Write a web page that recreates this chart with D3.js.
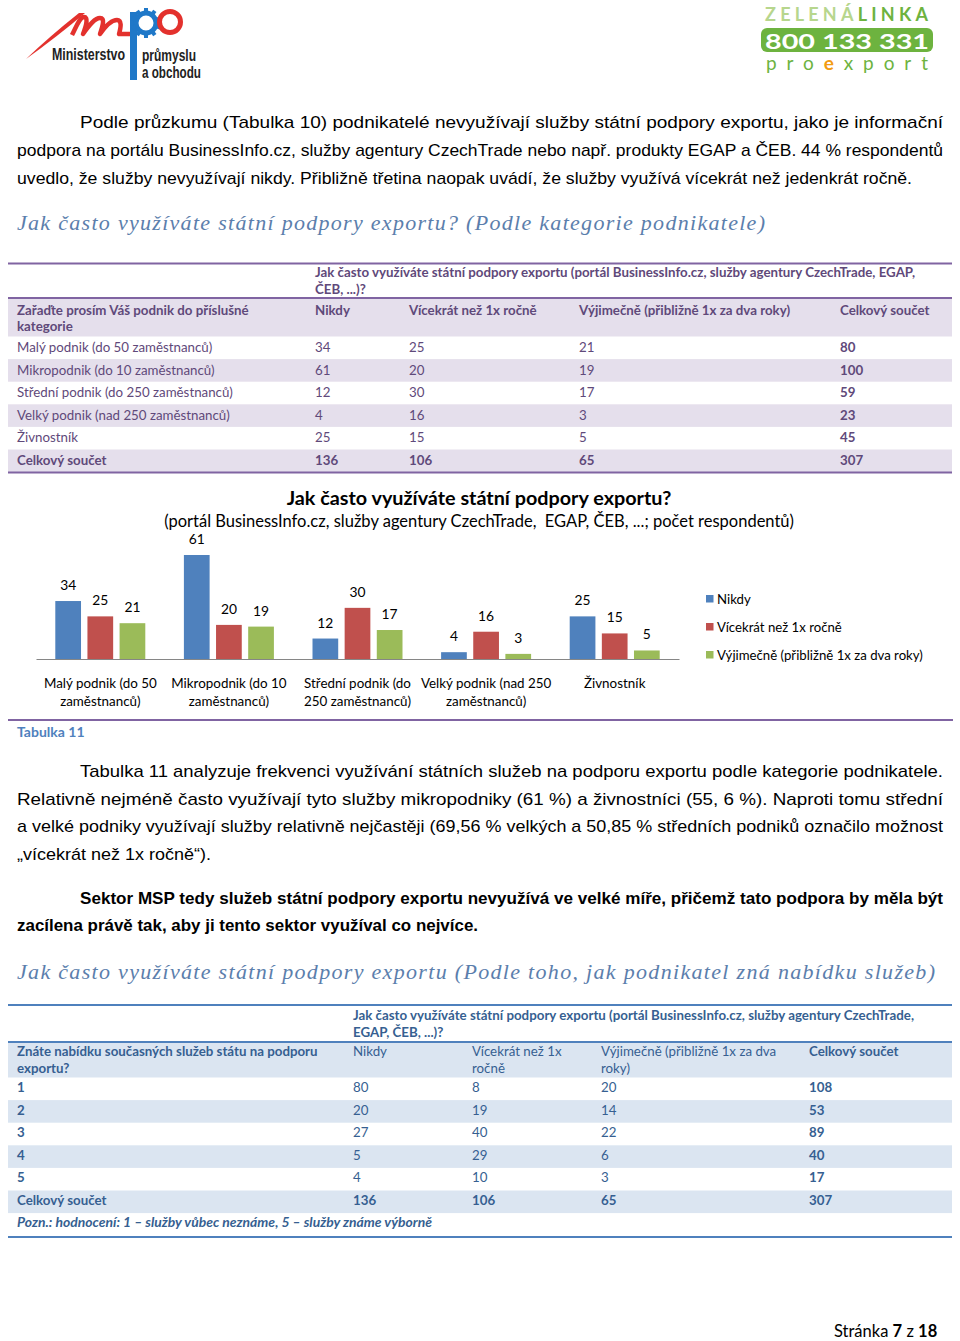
<!DOCTYPE html>
<html><head><meta charset="utf-8">
<script src="https://cdn.jsdelivr.net/npm/d3@7"></script>
<style>html,body{margin:0;padding:0;background:#fff;} svg{display:block;}</style>
</head><body><div id="page"></div>
<script>
// ---------- DATA ----------
const categories = ["Malý podnik (do 50 zaměstnanců)", "Mikropodnik (do 10 zaměstnanců)", "Střední podnik (do 250 zaměstnanců)", "Velký podnik (nad 250 zaměstnanců)", "Živnostník"];
const categoryAxisLines = [["Malý podnik (do 50", "zaměstnanců)"], ["Mikropodnik (do 10", "zaměstnanců)"], ["Střední podnik (do", "250 zaměstnanců)"], ["Velký podnik (nad 250", "zaměstnanců)"], ["Živnostník"]];
const series = ["Nikdy", "Vícekrát než 1x ročně", "Výjimečně (přibližně 1x za dva roky)"];
const nikdy = [34, 61, 12, 4, 25];
const vicekrat = [25, 20, 30, 16, 15];
const vyjimecne = [21, 19, 17, 3, 5];
const totals = [80, 100, 59, 23, 45];
const grandTotals = [136, 106, 65, 307];

const ratings = ["1", "2", "3", "4", "5"];
const nikdy2 = [80, 20, 27, 5, 4];
const vicekrat2 = [8, 19, 40, 29, 10];
const vyjimecne2 = [20, 14, 22, 6, 3];
const totals2 = [108, 53, 89, 40, 17];
const grandTotals2 = [136, 106, 65, 307];

const seriesColors = ["#4f81bd", "#c0504d", "#9bbb59"];

// ---------- SETUP ----------
const W = 960, H = 1341;
const svg = d3.select("#page").append("svg").attr("width", W).attr("height", H);
svg.append("rect").attr("width", W).attr("height", H).attr("fill", "#fff");
const SANS = "Lato, 'Open Sans', sans-serif";
const NARROW = "'Liberation Sans Narrow', 'Liberation Sans', sans-serif";
const SERIF = "'Liberation Serif', 'DejaVu Serif', serif";
const TS = 13.3;

function txt(parent, x, y, s, o = {}) {
  const t = parent.append("text").attr("x", x).attr("y", y)
    .attr("font-family", o.family || SANS)
    .attr("font-size", o.size || TS)
    .attr("font-weight", o.weight || "normal")
    .attr("font-style", o.style || "normal")
    .attr("fill", o.fill || "#000")
    .attr("text-anchor", o.anchor || "start")
    .text(s);
  if (o.len) t.attr("textLength", o.len).attr("lengthAdjust", o.adjust || "spacingAndGlyphs");
  return t;
}

// ---------- LOGOS ----------
const logo = svg.append("g");
logo.append("path").attr("d", "M26,59 Q50,36 79,13 L85,13 Q58,36 26,59 Z").attr("fill", "#e3312d");
logo.append("path")
  .attr("d", "M72,35 C77,25 80,17 84,17 C88,17 87,24 83,34 C90,24 95,18 100,18 C105,18 103,25 100,34 C107,24 112,20 117,20 C122,20 121,27 119,34 L130,34")
  .attr("fill", "none").attr("stroke", "#e3312d").attr("stroke-width", 4.5).attr("stroke-linejoin", "round");
logo.append("rect").attr("x", 130).attr("y", 12).attr("width", 7).attr("height", 68).attr("fill", "#1f78c8");
logo.append("circle").attr("cx", 146).attr("cy", 23).attr("r", 10).attr("fill", "none").attr("stroke", "#1f78c8").attr("stroke-width", 5);
d3.range(10).forEach(i => {
  const a = i * 36;
  logo.append("rect").attr("x", -2).attr("y", -15).attr("width", 4).attr("height", 4)
    .attr("fill", "#1f78c8").attr("transform", `translate(146,23) rotate(${a})`);
});
logo.append("circle").attr("cx", 170).attr("cy", 22).attr("r", 10.5).attr("fill", "none").attr("stroke", "#e3312d").attr("stroke-width", 5);
txt(logo, 52, 60, "Ministerstvo", {family: NARROW, size: 16, weight: "bold", fill: "#222", len: 73});
txt(logo, 142, 61, "průmyslu", {family: NARROW, size: 16, weight: "bold", fill: "#222", len: 54});
txt(logo, 142, 78, "a obchodu", {family: NARROW, size: 16, weight: "bold", fill: "#222", len: 59});

const zl = svg.append("g");
const zt = zl.append("text").attr("x", 765).attr("y", 21).attr("font-family", SANS).attr("font-size", 18)
  .attr("font-weight", "bold").attr("textLength", 163).attr("lengthAdjust", "spacing");
zt.append("tspan").attr("fill", "#b7d68d").text("ZELENÁ");
zt.append("tspan").attr("fill", "#6db33f").text("LINKA");
zl.append("rect").attr("x", 761).attr("y", 28).attr("width", 172).attr("height", 24).attr("rx", 6).attr("fill", "#6db33f");
txt(zl, 765, 48.5, "800 133 331", {size: 20, weight: "bold", fill: "#fff", len: 164});
const pe = zl.append("text").attr("x", 766).attr("y", 70).attr("font-family", SANS).attr("font-size", 19)
  .attr("textLength", 162).attr("lengthAdjust", "spacing");
pe.append("tspan").attr("fill", "#6db33f").text("pro");
pe.append("tspan").attr("fill", "#f39c12").attr("font-weight", "bold").text("e");
pe.append("tspan").attr("fill", "#6db33f").text("xport");

// ---------- BODY TEXT ----------
const bodyLines = [
  {s: "Podle průzkumu (Tabulka 10) podnikatelé nevyužívají služby státní podpory exportu, jako je informační", x: 80, y: 128, len: 863},
  {s: "podpora na portálu BusinessInfo.cz, služby agentury CzechTrade nebo např. produkty EGAP a ČEB. 44 % respondentů", x: 17, y: 156, len: 926},
  {s: "uvedlo, že služby nevyužívají nikdy. Přibližně třetina naopak uvádí, že služby využívá vícekrát než jedenkrát ročně.", x: 17, y: 184, len: 895},
  {s: "Tabulka 11 analyzuje frekvenci využívání státních služeb na podporu exportu podle kategorie podnikatele.", x: 80, y: 777, len: 863},
  {s: "Relativně nejméně často využívají tyto služby mikropodniky (61 %) a živnostníci (55, 6 %). Naproti tomu střední", x: 17, y: 805, len: 926},
  {s: "a velké podniky využívají služby relativně nejčastěji (69,56 % velkých a 50,85 % středních podniků označilo možnost", x: 17, y: 832, len: 926},
  {s: "„vícekrát než 1x ročně“).", x: 17, y: 860, len: 194},
  {s: "Sektor MSP tedy služeb státní podpory exportu nevyužívá ve velké míře, přičemž tato podpora by měla být", x: 80, y: 904, len: 863, w: "bold"},
  {s: "zacílena právě tak, aby ji tento sektor využíval co nejvíce.", x: 17, y: 931, len: 461, w: "bold"}
];
bodyLines.forEach(l => txt(svg, l.x, l.y, l.s, {family: NARROW, size: 17, weight: l.w || "normal", fill: "#000", len: l.len}));

txt(svg, 17, 230, "Jak často využíváte státní podpory exportu? (Podle kategorie podnikatele)",
  {family: SERIF, size: 22, style: "italic", fill: "#5b7eac", len: 748, adjust: "spacing"});
txt(svg, 17, 979, "Jak často využíváte státní podpory exportu (Podle toho, jak podnikatel zná nabídku služeb)",
  {family: SERIF, size: 22, style: "italic", fill: "#5b7eac", len: 918, adjust: "spacing"});

// ---------- TABLE 1 ----------
(function () {
  const g = svg.append("g");
  const C = "#5f497a", B = "#8064a2", F = "#e5dfec";
  const cols = [17, 315, 409, 579, 840];
  const rowTop = 336.5, rh = 22.6;
  g.append("rect").attr("x", 8).attr("y", 298.5).attr("width", 944).attr("height", 38).attr("fill", F);
  const rows = categories.map((c, i) => ({label: c, vals: [nikdy[i], vicekrat[i], vyjimecne[i], totals[i]], total: false}))
    .concat([{label: "Celkový součet", vals: grandTotals, total: true}]);
  const rg = g.selectAll("g.row").data(rows).join("g").attr("class", "row")
    .attr("transform", (d, i) => `translate(0,${rowTop + i * rh})`);
  rg.filter((d, i) => i % 2 === 1).append("rect").attr("x", 8).attr("y", 0).attr("width", 944).attr("height", rh).attr("fill", F);
  rg.each(function (d) {
    const r = d3.select(this);
    txt(r, cols[0], 15.5, d.label, {fill: C, weight: d.total ? "bold" : "normal"});
    d.vals.forEach((v, j) => txt(r, cols[j + 1], 15.5, v, {fill: C, weight: (d.total || j === 3) ? "bold" : "normal"}));
  });
  [263.5, 298, 472.5].forEach(y => g.append("line").attr("x1", 8).attr("x2", 952).attr("y1", y).attr("y2", y).attr("stroke", B).attr("stroke-width", 1.8));
  txt(g, 315, 277, "Jak často využíváte státní podpory exportu (portál BusinessInfo.cz, služby agentury CzechTrade, EGAP,", {fill: C, weight: "bold", len: 600});
  txt(g, 315, 294, "ČEB, ...)?", {fill: C, weight: "bold"});
  txt(g, cols[0], 315, "Zařaďte prosím Váš podnik do příslušné", {fill: C, weight: "bold"});
  txt(g, cols[0], 331, "kategorie", {fill: C, weight: "bold"});
  series.concat(["Celkový součet"]).forEach((s, j) => txt(g, cols[j + 1], 315, s, {fill: C, weight: "bold"}));
})();

// ---------- CHART ----------
(function () {
  const g = svg.append("g");
  const x0 = d3.scaleBand().domain(categories).range([36, 679]);
  const bw = x0.bandwidth();
  const x1 = d3.scaleBand().domain(series).range([(bw - 90) / 2, (bw + 90) / 2]).paddingInner(0.2);
  const y = d3.scaleLinear().domain([0, 70]).range([659, 659 - 70 * 1.705]);
  const color = d3.scaleOrdinal().domain(series).range(seriesColors);
  const data = categories.map((c, i) => ({cat: c, vals: [nikdy[i], vicekrat[i], vyjimecne[i]].map((v, k) => ({s: series[k], v}))}));

  txt(g, 479, 505, "Jak často využíváte státní podpory exportu?", {size: 19.8, weight: "bold", anchor: "middle", fill: "#000"});
  txt(g, 479, 527, "(portál BusinessInfo.cz, služby agentury CzechTrade,  EGAP, ČEB, ...; počet respondentů)", {size: 16.5, anchor: "middle", fill: "#000"}).attr("xml:space", "preserve");

  const grp = g.selectAll("g.cat").data(data).join("g").attr("class", "cat")
    .attr("transform", d => `translate(${x0(d.cat)},0)`);
  grp.selectAll("rect").data(d => d.vals).join("rect")
    .attr("x", d => x1(d.s)).attr("y", d => y(d.v))
    .attr("width", x1.bandwidth()).attr("height", d => y(0) - y(d.v))
    .attr("fill", d => color(d.s));
  grp.selectAll("text.lbl").data(d => d.vals).join("text").attr("class", "lbl")
    .attr("x", d => x1(d.s) + x1.bandwidth() / 2).attr("y", d => y(d.v) - 11)
    .attr("text-anchor", "middle").attr("font-family", SANS).attr("font-size", 13.8).attr("fill", "#000")
    .text(d => d.v);

  const axis = g.append("g").attr("transform", `translate(0,${y(0)})`)
    .call(d3.axisBottom(x0).tickSize(0).tickPadding(0));
  axis.select(".domain").attr("stroke", "#868686").attr("stroke-width", 1.2);
  axis.selectAll(".tick text").each(function (d, i) {
    const t = d3.select(this).text(null).attr("y", 0).attr("dy", null)
      .attr("font-family", SANS).attr("font-size", 13.4).attr("fill", "#000");
    categoryAxisLines[i].forEach((ln, k) => t.append("tspan").attr("x", 0).attr("y", 29 + k * 17.5).text(ln));
  });

  const lg = g.selectAll("g.leg").data(series).join("g").attr("class", "leg")
    .attr("transform", (d, i) => `translate(706,${595 + i * 28})`);
  lg.append("rect").attr("width", 7.5).attr("height", 7.5).attr("fill", d => color(d));
  lg.append("text").attr("x", 11).attr("y", 9).attr("font-family", SANS).attr("font-size", 13.2).attr("fill", "#000").text(d => d);

  g.append("line").attr("x1", 8).attr("x2", 953).attr("y1", 720).attr("y2", 720).attr("stroke", "#8064a2").attr("stroke-width", 1.8);
  txt(g, 17, 737, "Tabulka 11", {size: 14, weight: "bold", fill: "#4f81bd"});
})();

// ---------- TABLE 2 ----------
(function () {
  const g = svg.append("g");
  const C = "#365f91", B = "#4f81bd", F = "#dbe5f1";
  const cols = [17, 353, 472, 601, 809];
  const rowTop = 1077.5, rh = 22.6;
  g.append("rect").attr("x", 8).attr("y", 1042).attr("width", 944).attr("height", 35.5).attr("fill", F);
  const rows = ratings.map((c, i) => ({label: c, vals: [nikdy2[i], vicekrat2[i], vyjimecne2[i], totals2[i]], total: false}))
    .concat([{label: "Celkový součet", vals: grandTotals2, total: true}]);
  const rg = g.selectAll("g.row").data(rows).join("g").attr("class", "row")
    .attr("transform", (d, i) => `translate(0,${rowTop + i * rh})`);
  rg.filter((d, i) => i % 2 === 1).append("rect").attr("x", 8).attr("y", 0).attr("width", 944).attr("height", rh).attr("fill", F);
  rg.each(function (d) {
    const r = d3.select(this);
    txt(r, cols[0], 14.5, d.label, {fill: C, weight: "bold"});
    d.vals.forEach((v, j) => txt(r, cols[j + 1], 14.5, v, {fill: C, weight: (d.total || j === 3) ? "bold" : "normal"}));
  });
  txt(g, cols[0], 1227, "Pozn.: hodnocení: 1 – služby vůbec neznáme, 5 – služby známe výborně", {fill: C, weight: "bold", style: "italic", len: 415});
  [1005, 1042, 1237].forEach(y => g.append("line").attr("x1", 8).attr("x2", 952).attr("y1", y).attr("y2", y).attr("stroke", B).attr("stroke-width", 1.8));
  txt(g, 353, 1020, "Jak často využíváte státní podpory exportu (portál BusinessInfo.cz, služby agentury CzechTrade,", {fill: C, weight: "bold", len: 561});
  txt(g, 353, 1037, "EGAP, ČEB, ...)?", {fill: C, weight: "bold"});
  txt(g, cols[0], 1056, "Znáte nabídku současných služeb státu na podporu", {fill: C, weight: "bold"});
  txt(g, cols[0], 1073, "exportu?", {fill: C, weight: "bold"});
  txt(g, cols[1], 1056, "Nikdy", {fill: C});
  txt(g, cols[2], 1056, "Vícekrát než 1x", {fill: C});
  txt(g, cols[2], 1073, "ročně", {fill: C});
  txt(g, cols[3], 1056, "Výjimečně (přibližně 1x za dva", {fill: C});
  txt(g, cols[3], 1073, "roky)", {fill: C});
  txt(g, cols[4], 1056, "Celkový součet", {fill: C, weight: "bold"});
})();

// ---------- FOOTER ----------
const ft = svg.append("text").attr("x", 834).attr("y", 1337).attr("font-family", SANS).attr("font-size", 16.5).attr("fill", "#000");
ft.append("tspan").text("Stránka ");
ft.append("tspan").attr("font-weight", "bold").text("7");
ft.append("tspan").text(" z ");
ft.append("tspan").attr("font-weight", "bold").text("18");
</script>
</body></html>
